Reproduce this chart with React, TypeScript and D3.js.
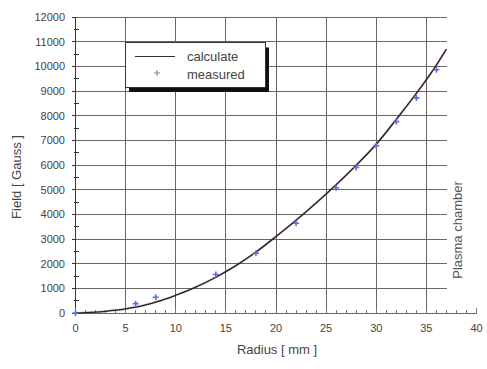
import React, { useEffect, useRef } from 'react';
import * as d3 from 'd3';

// calculated field along the radius
const calcRadius = [0, 1, 2, 3, 4, 5, 6, 7, 8, 9, 10, 12, 14, 16, 18, 20, 22, 24, 26, 28, 30, 32, 34, 36, 37];
const calcField = [0, 12, 35, 70, 115, 170, 240, 330, 440, 570, 720, 1050, 1450, 1920, 2470, 3100, 3760, 4460, 5200, 5990, 6840, 7850, 8900, 10050, 10700];

// measured points
const measRadius = [0, 6, 8, 14, 18, 22, 26, 28, 30, 32, 34, 36];
const measField = [0, 380, 640, 1560, 2420, 3640, 5080, 5900, 6780, 7760, 8720, 9860];

const xTicks = [0, 5, 10, 15, 20, 25, 30, 35, 40];
const yTicks = [0, 1000, 2000, 3000, 4000, 5000, 6000, 7000, 8000, 9000, 10000, 11000, 12000];
const legendLabels = ['calculate', 'measured'];

const W = 487, H = 369;
const font = '"Liberation Sans", Arial, sans-serif';

export default function App() {
  const ref = useRef<SVGSVGElement>(null);

  useEffect(() => {
    document.body.style.margin = '0';
    const svg = d3.select(ref.current!);
    svg.selectAll('*').remove();

    const x = d3.scaleLinear().domain([0, 40]).range([75.5, 476.5]);
    const y = d3.scaleLinear().domain([0, 12000]).range([313, 17]);
    const gridRight = x(37.1);

    svg.append('rect').attr('width', W).attr('height', H).attr('fill', '#fff');

    // grid
    const grid = svg.append('g').attr('stroke', '#666').attr('stroke-width', 1).attr('shape-rendering', 'crispEdges');
    yTicks.forEach(t => grid.append('line').attr('x1', x(0)).attr('x2', gridRight).attr('y1', y(t)).attr('y2', y(t)));
    xTicks.filter(t => t < 37).forEach(t => grid.append('line').attr('x1', x(t)).attr('x2', x(t)).attr('y1', y(0)).attr('y2', y(12000)));

    // axes
    const axes = svg.append('g').attr('stroke', '#333').attr('shape-rendering', 'crispEdges');
    axes.append('line').attr('x1', x(0)).attr('x2', x(0)).attr('y1', y(0)).attr('y2', y(12000));
    axes.append('line').attr('x1', x(0)).attr('x2', x(40)).attr('y1', y(0)).attr('y2', y(0)).attr('stroke', '#666');
    d3.range(0, 41).forEach(t => axes.append('line').attr('x1', x(t)).attr('x2', x(t)).attr('y1', y(0)).attr('y2', y(0) - (t % 5 === 0 ? 5 : 3)).attr('stroke', '#777'));
    d3.range(500, 12000, 1000).forEach(t => axes.append('line').attr('x1', x(0) - 2).attr('x2', x(0) + 3).attr('y1', y(t)).attr('y2', y(t)));
    yTicks.forEach(t => axes.append('line').attr('x1', x(0) - 4).attr('x2', x(0)).attr('y1', y(t)).attr('y2', y(t)));

    const labels = svg.append('g').attr('font-family', font).attr('font-size', 11).attr('fill', '#444');
    yTicks.forEach(t => labels.append('text').attr('x', 65).attr('y', y(t) + 4).attr('text-anchor', 'end').text(t));
    xTicks.forEach(t => labels.append('text').attr('x', x(t)).attr('y', 332).attr('text-anchor', 'middle').text(t));

    svg.append('text').attr('x', 277).attr('y', 354).attr('text-anchor', 'middle')
      .attr('font-family', font).attr('font-size', 13).attr('fill', '#444').text('Radius [ mm ]');
    svg.append('text').attr('transform', 'translate(21,177) rotate(-90)').attr('text-anchor', 'middle')
      .attr('font-family', font).attr('font-size', 13).attr('fill', '#444').text('Field [ Gauss ]');
    svg.append('text').attr('transform', `translate(462,230) rotate(-90)`).attr('text-anchor', 'middle')
      .attr('font-family', font).attr('font-size', 13).attr('fill', '#555').text('Plasma chamber');

    // calculated curve
    const line = d3.line<number>().x((_, i) => x(calcRadius[i])).y(d => y(d)).curve(d3.curveMonotoneX);
    svg.append('path').attr('d', line(calcField)).attr('fill', 'none').attr('stroke', '#a03050').attr('stroke-width', 2.2).attr('opacity', 0.35);
    svg.append('path').attr('d', line(calcField)).attr('fill', 'none').attr('stroke', '#222').attr('stroke-width', 1.3);

    // measured markers
    const plus = (cx: number, cy: number, s: number) => `M${cx - s},${cy}H${cx + s}M${cx},${cy - s}V${cy + s}`;
    const marks = svg.append('g').attr('stroke', '#5b6ee0').attr('stroke-width', 1.6).attr('fill', 'none');
    measRadius.forEach((r, i) => marks.append('path').attr('d', plus(x(r), y(measField[i]), 3)));

    // legend
    const lx = 125, ly = 42.5, lw = 140, lh = 44.5;
    svg.append('rect').attr('x', lx + 4).attr('y', ly + 5).attr('width', lw).attr('height', lh).attr('fill', '#111');
    svg.append('rect').attr('x', lx).attr('y', ly).attr('width', lw).attr('height', lh).attr('fill', '#fff').attr('stroke', '#333').attr('shape-rendering', 'crispEdges');
    svg.append('line').attr('x1', 135).attr('x2', 175).attr('y1', 56.5).attr('y2', 56.5).attr('stroke', '#333').attr('stroke-width', 1.2);
    svg.append('path').attr('d', plus(157, 73, 3)).attr('stroke', '#888').attr('stroke-width', 1.2);
    legendLabels.forEach((l, i) => svg.append('text').attr('x', 187).attr('y', 61 + i * 18)
      .attr('font-family', font).attr('font-size', 13).attr('fill', '#444').text(l));
  }, []);

  return <svg ref={ref} width={W} height={H} style={{ display: 'block' }} />;
}
